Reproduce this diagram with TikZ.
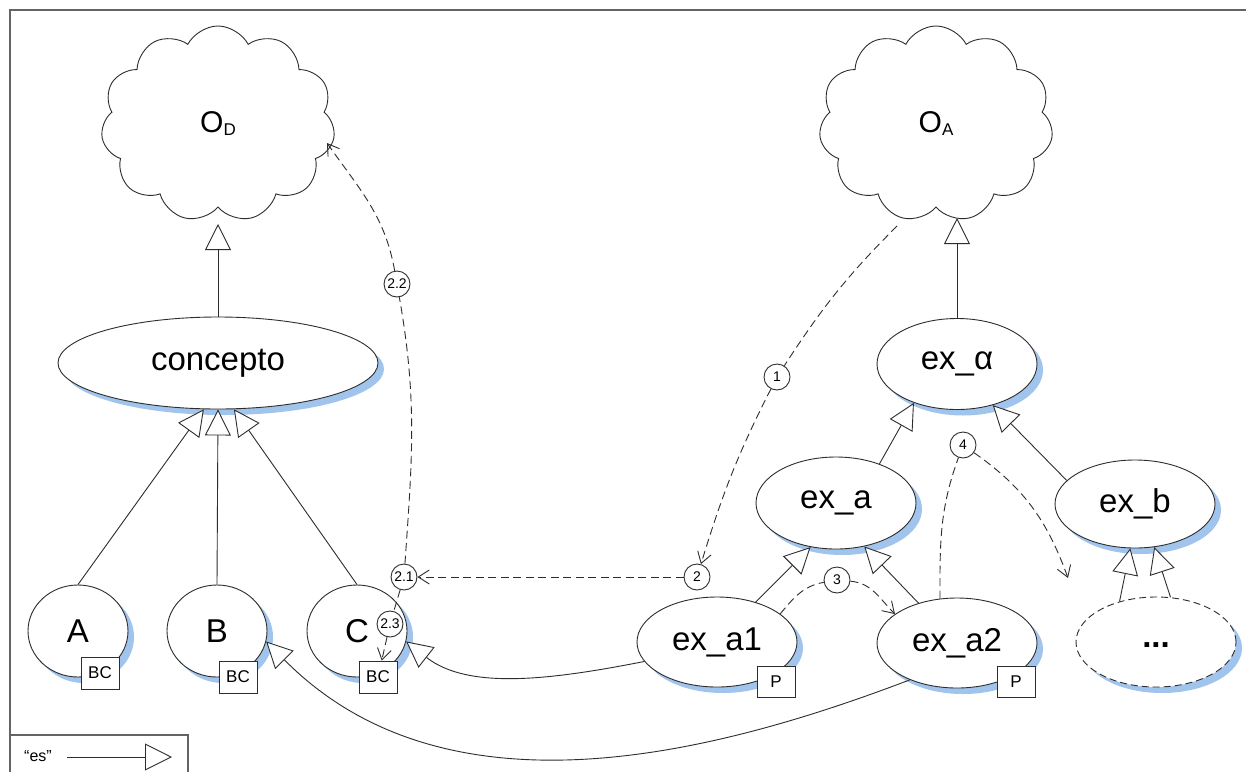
\documentclass[tikz,border=0pt]{standalone}
\usepackage{fontspec}
\setmainfont{Liberation Sans}
\usetikzlibrary{shapes.geometric,shapes.symbols,arrows.meta,shadows}
\definecolor{shadowblue}{RGB}{160,196,236}
\definecolor{ln}{RGB}{45,45,45}
\definecolor{framec}{RGB}{100,100,100}
\newcommand{\fbig}{\fontsize{33}{38}\selectfont}
\newcommand{\fcloud}{\fontsize{30}{34}\selectfont}
\newcommand{\fsub}{\fontsize{17}{19}\selectfont}
\newcommand{\ftag}{\fontsize{17}{19}\selectfont}
\newcommand{\fnum}{\fontsize{14}{16}\selectfont}
\begin{document}
\begin{tikzpicture}[x=1pt,y=-1pt,
  cls/.style={ellipse, draw=ln, line width=0.9pt, fill=white, minimum width=160pt,
    minimum height=90pt, inner sep=0pt, font=\fbig,
    general shadow={fill=shadowblue, shadow xshift=6pt, shadow yshift=-6pt}},
  cloudn/.style={cloud, cloud puffs=11, cloud puff arc=125, cloud ignores aspect,
    draw=ln, line width=0.9pt, fill=white, minimum width=234pt, minimum height=196pt,
    inner sep=0pt, font=\fcloud},
  tag/.style={rectangle, draw=ln, line width=0.9pt, fill=white, minimum width=38pt,
    minimum height=32pt, inner sep=0pt, font=\ftag},
  num/.style={circle, draw=ln, line width=0.9pt, fill=white, minimum size=26pt,
    inner sep=0pt, font=\fnum},
  isa/.style={draw=ln, line width=0.9pt,
    -{Triangle[open, length=26pt, width=26pt, fill=white]}},
  dep/.style={draw=ln, line width=0.9pt, dash pattern=on 8pt off 4.5pt,
    -{Straight Barb[length=11pt, width=14pt]}},
  framel/.style={draw=framec, line width=1.2pt}
]
\useasboundingbox (0,0) rectangle (1246,771);
\fill[white] (0,0) rectangle (1246,771);
% frame
\draw[framel] (1246,10) -- (10,10) -- (10,771);
\draw[framel] (10,735) rectangle (188,780);
\node[font=\fontsize{16}{18}\selectfont] (es) at (38,756) {“es”};
\coordinate (esend) at (172,757);
\draw[isa, -{Triangle[open, length=27pt, width=27pt, fill=white]}, shorten <=12pt] (es.east |- esend) -- (esend);

% clouds
\node[cloudn] (OD) at (218,124) {O\raisebox{-3pt}{\fsub D}};
\node[cloudn] (OA) at (936,124) {O\raisebox{-3pt}{\fsub A}};

% left ellipses
\node[cls, minimum width=320pt, minimum height=92pt] (concepto) at (218,363) {concepto};
\node[cls, minimum width=100pt, minimum height=92pt] (A) at (78,631) {A};
\node[cls, minimum width=100pt, minimum height=92pt] (B) at (217,631) {B};
\node[cls, minimum width=100pt, minimum height=92pt] (C) at (357,631) {C};

% right ellipses
\node[cls, minimum height=91pt] (exal) at (957,364) {ex\_α};
\node[cls, minimum height=92pt] (exa) at (836,503) {ex\_a};
\node[cls, minimum height=88pt] (exb) at (1135,504) {ex\_b};
\node[cls] (exa1) at (717,642) {ex\_a1};
\node[cls] (exa2) at (957,643) {ex\_a2};
\node[cls, dash pattern=on 7pt off 4pt] (dots) at (1156,642) {\raisebox{-10pt}{\bfseries ...}};

% tags
\node[tag] (ABC) at (100,673) {BC};
\node[tag] (BBC) at (238,677) {BC};
\node[tag] (CBC) at (378,677) {BC};
\node[tag, minimum height=31pt] (P1) at (776,682) {P};
\node[tag, minimum height=31pt] (P2) at (1016,682) {P};

% inheritance
\draw[isa] (concepto.north) -- (218,224);
\draw[isa] (A.north) -- (concepto.-107);
\draw[isa] (B.north) -- (concepto.south);
\draw[isa] (C.north) -- (concepto.-71);
\draw[isa] (exal.north) -- (957,218);
\draw[isa] (exa.42) -- (exal.-138);
\draw[isa] (exb.161) -- (exal.-49);
\draw[isa] (exa1.46) -- (exa.-120);
\draw[isa] (exa2.134) -- (exa.-57);
\draw[isa] (dots.132) -- (exb.-96);
\draw[isa] (dots.72) -- (exb.-66);
\draw[isa] (exa1.-165) .. controls (550,680) and (468,690) .. (C.-12);
\draw[isa] (exa2.-142) .. controls (700,760) and (442,819) .. (B.-12);

% numbered circles
\node[num] (c1) at (777,377) {1};
\node[num] (c2) at (697,577) {2};
\node[num] (c21) at (404,577) {2.1};
\node[num] (c22) at (397,284) {2.2};
\node[num] (c23) at (390,624) {2.3};
\node[num] (c3) at (837,580) {3};
\node[num] (c4) at (963,445) {4};

\coordinate (OAout) at (897,226);
\coordinate (ODin) at (327,143);
\coordinate (t4) at (1068,578);

% dependency arrows
\draw[dep] (OAout) to[out=225,in=57] (c1) to[out=243,in=73] (c2);
\draw[dep] (c2) -- (c21);
\draw[dep] (c21) to[out=86,in=-80] (c22) to[out=100,in=-55] (ODin);
\draw[dep] (c21) -- (c23) -- (CBC);
\draw[dep] (exa1.24) to[out=50,in=190] (c3) to[out=-5,in=135] (exa2.155);
\draw[dep] (exa2.111) to[out=90,in=-110] (c4) to[out=-35,in=110] (t4);
\end{tikzpicture}
\end{document}
